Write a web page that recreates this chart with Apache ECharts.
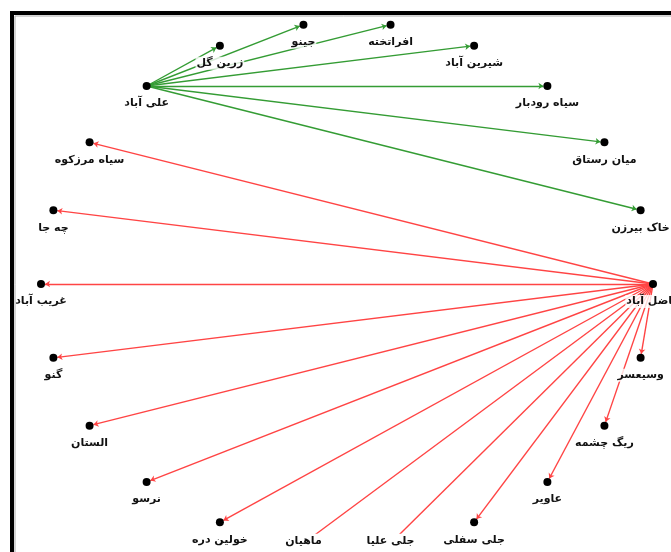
<!DOCTYPE html>
<html><head><meta charset="utf-8">
<script src="https://cdn.jsdelivr.net/npm/echarts@6/dist/echarts.min.js"></script>
<style>html,body{margin:0;padding:0;background:#fff}#c{width:671px;height:552px}</style>
</head><body><div id="c"></div>
<script>
// Nodes in ring order (clockwise, starting at the right-hand side)
const ringNodes = ['فاضل آباد','وسیعسر','ریگ چشمه','عاویر','جلی سفلی','جلی علیا','ماهیان','خولین دره','نرسو','الستان','گنو','غریب آباد','چه جا','سیاه مرزکوه','علی آباد','زرین گل','جینو','افراتخته','شیرین آباد','سیاه رودبار','میان رستاق','خاک بیرزن'];
const greenSource = 'علی آباد';
const greenTargets = ['زرین گل','جینو','افراتخته','شیرین آباد','سیاه رودبار','میان رستاق','خاک بیرزن'];
const redSource = 'فاضل آباد';
const redTargets = ['وسیعسر','ریگ چشمه','عاویر','جلی سفلی','جلی علیا','ماهیان','خولین دره','نرسو','الستان','گنو','غریب آباد','چه جا','سیاه مرزکوه'];

const W = 671, H = 552;
// elliptical ring layout
const CX = 347, CY = 284, RX = 306, RY = 262;
const n = ringNodes.length;
const pos = ringNodes.map((name, k) => {
  const a = k * 2 * Math.PI / n;
  return [CX + RX * Math.cos(a), CY + RY * Math.sin(a)];
});
const xs = pos.map(p => p[0]), ys = pos.map(p => p[1]);
const minX = Math.min(...xs), maxX = Math.max(...xs), minY = Math.min(...ys), maxY = Math.max(...ys);

const nodes = ringNodes.map((name, k) => {
  const low = pos[k][1] + 22 > H;
  return {
    name: name, x: pos[k][0], y: pos[k][1],
    label: low ? { position: 'inside', offset: [0, -2], backgroundColor: '#fff', padding: [2, 2] } : undefined
  };
});
const GREEN = '#349c34', RED = '#ff4444';
const links = greenTargets.map(t => ({ source: greenSource, target: t, lineStyle: { color: GREEN } }))
  .concat(redTargets.map(t => ({ source: redSource, target: t, lineStyle: { color: RED } })));

const chart = echarts.init(document.getElementById('c'), null, { renderer: 'canvas' });
chart.setOption({
  backgroundColor: '#fff',
  animation: false,
  graphic: [
    { type: 'rect', shape: { x: 12, y: 13, width: 720, height: 620 }, style: { fill: 'none', stroke: '#000', lineWidth: 4 }, z: 10 },
    { type: 'rect', shape: { x: 15, y: 16, width: 720, height: 620 }, style: { fill: 'none', stroke: '#aaa', lineWidth: 1 }, z: 10 }
  ],
  series: [{
    type: 'graph',
    layout: 'none',
    left: minX, top: minY, width: maxX - minX, height: maxY - minY,
    roam: false,
    symbol: 'circle',
    symbolSize: 8,
    itemStyle: { color: '#000' },
    edgeSymbol: ['none', 'arrow'],
    edgeSymbolSize: [0, 5],
    lineStyle: { width: 1.4, opacity: 1, curveness: 0 },
    label: {
      show: true, position: 'bottom', distance: 7,
      fontFamily: 'DejaVu Sans, sans-serif', fontWeight: 'bold', fontSize: 11,
      color: '#111', backgroundColor: 'rgba(255,255,255,0.8)', padding: [1, 1]
    },
    data: nodes,
    links: links
  }]
});
</script></body></html>
